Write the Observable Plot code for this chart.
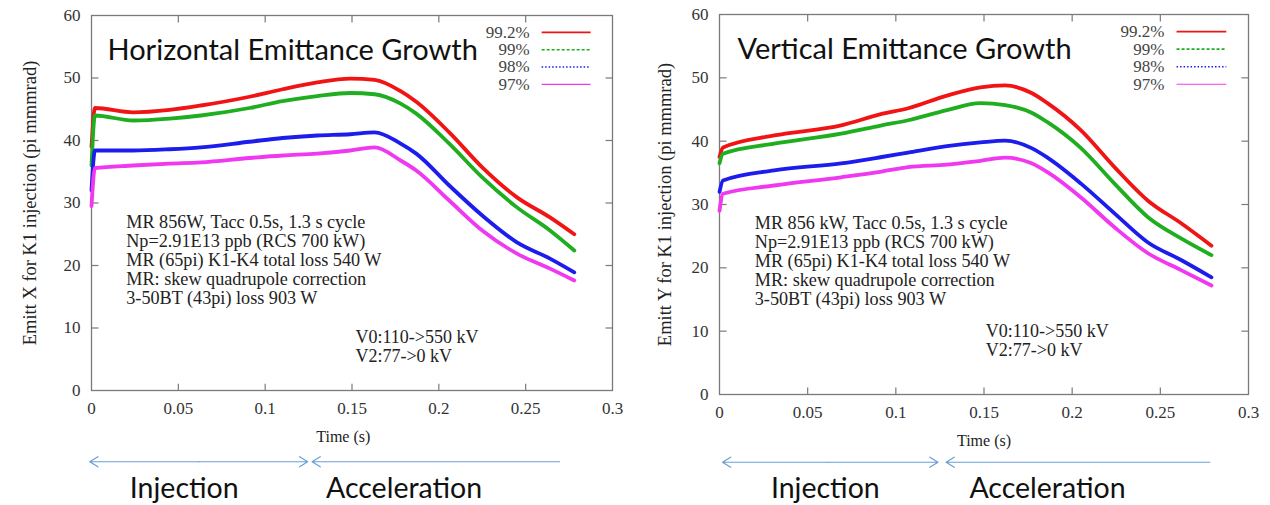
<!DOCTYPE html>
<html><head><meta charset="utf-8">
<script src="https://cdn.jsdelivr.net/npm/d3@7"></script>
<script src="https://cdn.jsdelivr.net/npm/@observablehq/plot@0.6"></script>
<style>body{margin:0;background:#fff}#wrap{display:flex;width:1270px;height:505px;overflow:hidden}</style>
</head><body><div id="wrap"></div>
<script>
// ---- data ----
const seriesLabels = ["99.2%", "99%", "98%", "97%"];

const timesH = [0, 0.002, 0.024, 0.045, 0.063, 0.091, 0.110, 0.130, 0.149, 0.163, 0.178, 0.187, 0.206, 0.225, 0.245, 0.264, 0.278];
const h992 = [39.0, 45.2, 44.5, 44.9, 45.6, 47.0, 48.2, 49.3, 49.9, 49.7, 47.9, 46.2, 41.3, 35.7, 30.9, 27.7, 25.0];
const h99  = [36.0, 44.0, 43.2, 43.5, 44.0, 45.2, 46.3, 47.1, 47.6, 47.4, 45.9, 44.3, 39.5, 34.1, 29.3, 25.6, 22.4];
const h98  = [32.0, 38.4, 38.4, 38.6, 38.9, 39.8, 40.4, 40.8, 41.0, 41.3, 39.5, 37.9, 32.8, 28.0, 23.7, 21.1, 18.9];
const h97  = [29.5, 35.6, 36.0, 36.3, 36.5, 37.2, 37.6, 37.9, 38.4, 38.9, 36.8, 35.2, 30.4, 25.6, 21.9, 19.5, 17.6];

const timesV = [0, 0.002, 0.031, 0.069, 0.092, 0.107, 0.129, 0.148, 0.162, 0.177, 0.186, 0.205, 0.224, 0.243, 0.262, 0.279];
const v992 = [37.5, 39.0, 40.9, 42.5, 44.3, 45.2, 47.2, 48.5, 48.8, 47.6, 46.0, 41.7, 35.9, 30.6, 27.0, 23.5];
const v99  = [36.5, 38.0, 39.6, 41.2, 42.5, 43.3, 44.9, 46.0, 45.7, 44.5, 43.0, 38.9, 33.3, 28.0, 24.6, 22.0];
const v98  = [32.0, 33.8, 35.4, 36.5, 37.5, 38.2, 39.2, 39.8, 40.1, 38.9, 37.4, 33.3, 28.6, 24.0, 21.2, 18.5];
const v97  = [29.0, 31.7, 33.0, 34.3, 35.2, 35.9, 36.3, 36.9, 37.4, 36.5, 35.1, 31.1, 26.4, 22.3, 19.6, 17.2];

const xTicks = [0, 0.05, 0.1, 0.15, 0.2, 0.25, 0.3];
const yTicks = [0, 10, 20, 30, 40, 50, 60];

const titles = ["Horizontal Emittance Growth", "Vertical Emittance Growth"];
const yLabels = ["Emitt X for K1 injection (pi mmmrad)", "Emitt Y for K1 injection (pi mmmrad)"];
const xLabel = "Time (s)";
const notesH = ["MR 856W, Tacc 0.5s, 1.3 s cycle", "Np=2.91E13 ppb (RCS 700 kW)", "MR (65pi) K1-K4 total loss 540 W", "MR: skew quadrupole correction", "3-50BT (43pi) loss 903 W"];
const notesV = ["MR 856 kW, Tacc 0.5s, 1.3 s cycle", "Np=2.91E13 ppb (RCS 700 kW)", "MR (65pi) K1-K4 total loss 540 W", "MR: skew quadrupole correction", "3-50BT (43pi) loss 903 W"];
const voltNotes = ["V0:110->550 kV", "V2:77->0 kV"];
const phases = ["Injection", "Acceleration"];

// ---- styles ----
const colors = ["#f01414", "#1fae1f", "#1c1cec", "#f038f0"];
const legendDash = [null, "3,2", "1.5,2", null];
const legendWidth = [1.8, 1.6, 1.6, 1.2];
const serif = "Liberation Serif, Times New Roman, serif";
const sans = "Lato, Open Sans, sans-serif";

function panel(cfg) {
  const rows = [];
  cfg.series.forEach((vals, i) => vals.forEach((v, j) => rows.push({t: cfg.times[j], v, s: seriesLabels[i]})));
  const innerX = xTicks.slice(1, -1), innerY = yTicks.slice(1, -1);
  const legRows = seriesLabels.map((s, i) => ({s, i, y: 57.3 - i * 2.77}));
  return Plot.plot({
    width: 635, height: 505,
    marginLeft: cfg.ml, marginRight: cfg.mr, marginTop: cfg.mt, marginBottom: cfg.mb,
    x: {domain: [0, 0.3]},
    y: {domain: [0, 60]},
    style: {fontFamily: serif, fontSize: "17px", color: "#333", background: "#fff", overflow: "visible"},
    marks: [
      Plot.frame({stroke: "#7a7a7a", strokeWidth: 1.3}),
      // inward ticks (gnuplot style, mirrored)
      Plot.link(innerY, {x1: () => 0, x2: () => 0.004, y1: d => d, y2: d => d, stroke: "#7a7a7a", strokeWidth: 1.2}),
      Plot.link(innerY, {x1: () => 0.3, x2: () => 0.296, y1: d => d, y2: d => d, stroke: "#7a7a7a", strokeWidth: 1.2}),
      Plot.link(innerX, {x1: d => d, x2: d => d, y1: () => 0, y2: () => 1.1, stroke: "#7a7a7a", strokeWidth: 1.2}),
      Plot.link(innerX, {x1: d => d, x2: d => d, y1: () => 60, y2: () => 58.9, stroke: "#7a7a7a", strokeWidth: 1.2}),
      Plot.axisY({ticks: yTicks, tickSize: 0, tickPadding: 11, label: null, fill: "#333", fontFamily: serif, fontSize: 17}),
      Plot.axisX({ticks: xTicks, tickSize: 0, tickPadding: 11, label: null, tickFormat: d3.format("~g"), fill: "#333", fontFamily: serif, fontSize: 17}),
      // data
      ...seriesLabels.map((s, i) => Plot.line(rows.filter(r => r.s === s), {x: "t", y: "v", stroke: colors[i], strokeWidth: 3.8, curve: "monotone-x"})),
      // legend
      Plot.text(legRows, {x: () => 0.2523, y: "y", text: "s", textAnchor: "end", lineAnchor: "middle", fill: "#444", fontFamily: serif, fontSize: 17}),
      ...legRows.map(r => Plot.link([r], {x1: () => 0.2592, x2: () => 0.2874, y1: "y", y2: "y", stroke: colors[r.i], strokeWidth: legendWidth[r.i], strokeDasharray: legendDash[r.i]})),
      // title
      Plot.text([cfg.title], {x: [cfg.titleX], y: [54.4], text: d => d, textAnchor: "start", lineAnchor: "middle", fontFamily: sans, fontSize: 29, fill: "#111"}),
      // annotations
      Plot.text([cfg.notes.join("\n")], {x: [0.020], y: [cfg.notesY], text: d => d, textAnchor: "start", lineAnchor: "middle", lineHeight: 1.04, fill: "#222", fontFamily: serif, fontSize: 18.2}),
      Plot.text([voltNotes.join("\n")], {x: [cfg.voltX], y: [cfg.voltY], text: d => d, textAnchor: "start", lineAnchor: "middle", lineHeight: 1.04, fill: "#222", fontFamily: serif, fontSize: 18}),
      // axis labels
      Plot.text([cfg.yLabel], {frameAnchor: "left", dx: -(cfg.ml - 30), rotate: -90, textAnchor: "middle", lineAnchor: "middle", text: d => d, fill: "#222", fontFamily: serif, fontSize: 18.5}),
      Plot.text([xLabel], {x: [cfg.xLabelX], y: [cfg.xLabelY], text: d => d, fill: "#222", fontFamily: serif, fontSize: 16}),
      // phase arrows
      Plot.arrow(cfg.arrows, {x1: "a", x2: "b", y1: () => cfg.arrowY, y2: () => cfg.arrowY, stroke: "#6a9fd4", strokeWidth: 1.2, headLength: 12, headAngle: 64}),
      Plot.text(phases, {x: cfg.phaseX, y: () => cfg.phaseY, text: d => d, fontFamily: sans, fontSize: 28.5, fill: "#111"})
    ]
  });
}

const left = panel({
  ml: 91, mr: 23, mt: 15, mb: 115,
  times: timesH, series: [h992, h99, h98, h97],
  title: titles[0], titleX: 0.0092, notes: notesH, notesY: 20.9, voltX: 0.152, voltY: 7.0,
  yLabel: yLabels[0], xLabelX: 0.145, xLabelY: -7.4,
  arrows: [{a: 0.062, b: -0.001}, {a: 0.062, b: 0.1245}, {a: 0.2695, b: 0.127}],
  arrowY: -11.4, phaseX: [0.0534, 0.180], phaseY: -15.8
});
const right = panel({
  ml: 84, mr: 22, mt: 14, mb: 111,
  times: timesV, series: [v992, v99, v98, v97],
  title: titles[1], titleX: 0.0102, notes: notesV, notesY: 21.1, voltX: 0.151, voltY: 8.5,
  yLabel: yLabels[1], xLabelX: 0.15, xLabelY: -7.3,
  arrows: [{a: 0.062, b: 0.0017}, {a: 0.062, b: 0.1239}, {a: 0.278, b: 0.1285}],
  arrowY: -10.7, phaseX: [0.060, 0.186], phaseY: -14.9
});
document.getElementById("wrap").append(left, right);
</script>
</body></html>
